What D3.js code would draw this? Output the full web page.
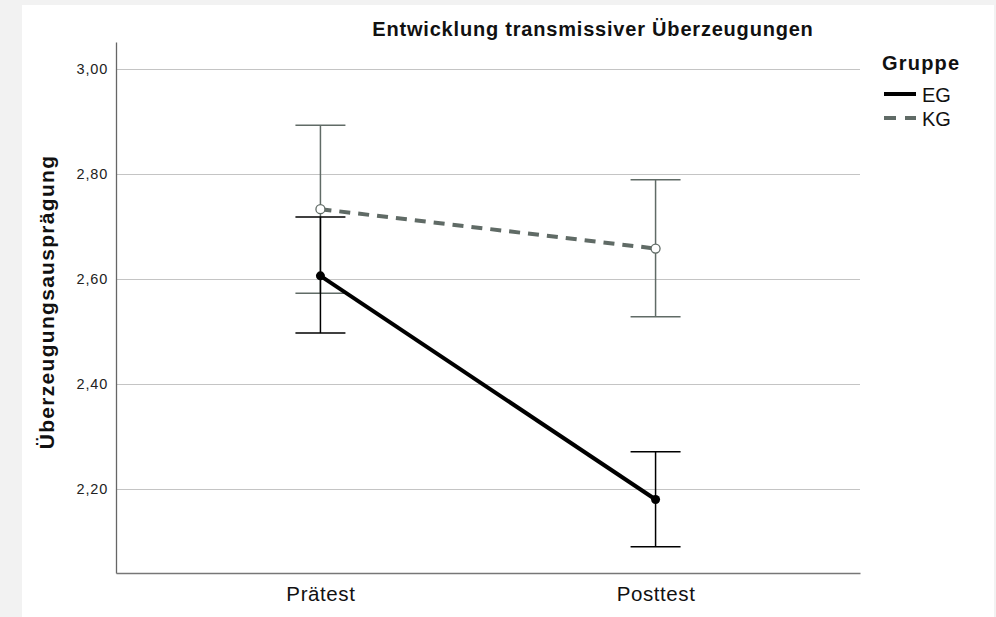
<!DOCTYPE html>
<html>
<head>
<meta charset="utf-8">
<script src="https://cdn.jsdelivr.net/npm/d3@7"></script>
<style>
  body { margin: 0; background: #f2f2f2; font-family: "Liberation Sans", Arial, sans-serif; }
  svg { display: block; }
</style>
</head>
<body>
<svg></svg>
<script>
var zeitpunkte = ["Prätest", "Posttest"];
var gruppen = ["EG", "KG"];
var yTicks = [2.20, 2.40, 2.60, 2.80, 3.00];

// means and error bar bounds per group
var egMittel = [2.606, 2.180];
var egOben   = [2.718, 2.271];
var egUnten  = [2.497, 2.090];
var kgMittel = [2.733, 2.658];
var kgOben   = [2.893, 2.789];
var kgUnten  = [2.573, 2.528];

var farben = {EG: "#000000", KG: "#606b66"};

var W = 996, H = 617;
var margin = {top: 42, right: 136, bottom: 44, left: 116},
    width = W - margin.left - margin.right,
    height = H - margin.top - margin.bottom;

var root = d3.select("svg").attr("width", W).attr("height", H);

// white panel
root.append("rect").attr("x", 22).attr("y", 5).attr("width", 972).attr("height", H - 5).attr("fill", "#fff");

var svg = root.append("g")
  .attr("transform", "translate(" + margin.left + "," + margin.top + ")");

var x = d3.scalePoint().domain(zeitpunkte).range([0, width]).padding(0.61);
var y = d3.scaleLinear().domain([2.04, 3.0514]).range([height, 0]);

// grid
svg.append("g")
  .call(d3.axisLeft(y).tickValues(yTicks).tickSize(-width).tickFormat(""))
  .call(function(g) { g.select(".domain").remove(); })
  .selectAll("line").attr("stroke", "#c4c4c4").attr("stroke-width", 1.2);

// y axis
var yAxis = svg.append("g")
  .call(d3.axisLeft(y).tickValues(yTicks).tickSize(0).tickPadding(8)
    .tickFormat(function(d) { return d3.format(".2f")(d).replace(".", ","); }));
yAxis.select(".domain").attr("stroke", "#666").attr("stroke-width", 1.3);
yAxis.selectAll("text").attr("font-size", 14.5).attr("fill", "#222")
  .attr("letter-spacing", 0.8)
  .attr("font-family", "'Liberation Sans', Arial, sans-serif");

// x axis
var xAxis = svg.append("g")
  .attr("transform", "translate(0," + height + ")")
  .call(d3.axisBottom(x).tickSize(0).tickPadding(13));
xAxis.select(".domain").attr("stroke", "#777").attr("stroke-width", 1.6);
xAxis.selectAll("text").attr("font-size", 20.5).attr("fill", "#111")
  .attr("letter-spacing", 0.6)
  .attr("font-family", "'Liberation Sans', Arial, sans-serif");

var data = [
  {g: "EG", m: egMittel, o: egOben, u: egUnten},
  {g: "KG", m: kgMittel, o: kgOben, u: kgUnten}
];

// error bars (KG first, EG on top)
[data[1], data[0]].forEach(function(s) {
  var col = farben[s.g];
  zeitpunkte.forEach(function(t, i) {
    var cx = x(t);
    svg.append("line").attr("x1", cx).attr("x2", cx)
      .attr("y1", y(s.o[i])).attr("y2", y(s.u[i]))
      .attr("stroke", col).attr("stroke-width", 1.5);
    [s.o[i], s.u[i]].forEach(function(v) {
      svg.append("line").attr("x1", cx - 25).attr("x2", cx + 25)
        .attr("y1", y(v)).attr("y2", y(v))
        .attr("stroke", col).attr("stroke-width", 1.5);
    });
  });
});

var line = d3.line()
  .x(function(d, i) { return x(zeitpunkte[i]); })
  .y(function(d) { return y(d); });

svg.append("path").datum(kgMittel).attr("d", line)
  .attr("fill", "none").attr("stroke", farben.KG).attr("stroke-width", 4)
  .attr("stroke-dasharray", "11,8");
svg.append("path").datum(egMittel).attr("d", line)
  .attr("fill", "none").attr("stroke", farben.EG).attr("stroke-width", 4);

svg.selectAll(".kgdot").data(kgMittel).enter().append("circle")
  .attr("cx", function(d, i) { return x(zeitpunkte[i]); })
  .attr("cy", function(d) { return y(d); })
  .attr("r", 4.5).attr("fill", "#fff").attr("stroke", farben.KG).attr("stroke-width", 1.3);
svg.selectAll(".egdot").data(egMittel).enter().append("circle")
  .attr("cx", function(d, i) { return x(zeitpunkte[i]); })
  .attr("cy", function(d) { return y(d); })
  .attr("r", 4.5).attr("fill", farben.EG);

// title
root.append("text").attr("x", 593).attr("y", 36).attr("text-anchor", "middle")
  .attr("font-size", 20).attr("font-weight", "bold").attr("fill", "#111")
  .attr("letter-spacing", 0.8)
  .text("Entwicklung transmissiver Überzeugungen");

// y label
root.append("text").attr("transform", "translate(54,302) rotate(-90)")
  .attr("text-anchor", "middle").attr("font-size", 21).attr("font-weight", "bold").attr("fill", "#111")
  .attr("letter-spacing", 1.3)
  .text("Überzeugungsausprägung");

// legend
var leg = root.append("g").attr("transform", "translate(882,0)");
leg.append("text").attr("x", 0).attr("y", 70).attr("font-size", 20).attr("font-weight", "bold")
  .attr("fill", "#111").attr("letter-spacing", 1.2).text("Gruppe");
gruppen.forEach(function(g, i) {
  var yy = 94 + i * 24;
  leg.append("line").attr("x1", 2).attr("x2", 34).attr("y1", yy).attr("y2", yy)
    .attr("stroke", farben[g]).attr("stroke-width", 4)
    .attr("stroke-dasharray", g === "KG" ? "12,9" : null);
  leg.append("text").attr("x", 40).attr("y", yy + 8).attr("font-size", 20).attr("fill", "#111").text(g);
});
</script>
</body>
</html>
